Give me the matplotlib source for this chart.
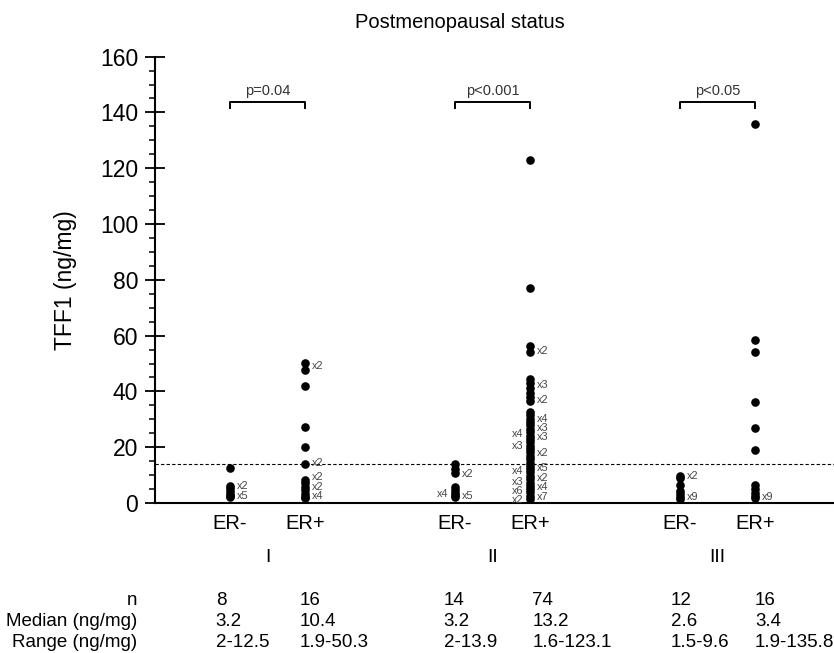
#!/usr/bin/env python
"""
TFF1 levels by ER status, postmenopausal patients (dot plot + summary table)
"""

import matplotlib as mpl
mpl.use('Agg')
import matplotlib.pyplot as plt
from matplotlib.ticker import MultipleLocator
from matplotlib.transforms import blended_transform_factory

plt.rcParams['font.family'] = ['Liberation Sans', 'DejaVu Sans']

"""----------------------------- data ---------------------------------"""

groups = ['I', 'II', 'III']
er_labels = ['ER-', 'ER+']
xpos = [0, 1, 3, 4, 6, 7]   # ER-/ER+ per group

# visible dots per column (ng/mg)
dots_I_neg = [12.5, 6.0, 5.2, 4.2, 3.3, 2.5, 2.0]
dots_I_pos = [50.3, 47.8, 41.8, 27.1, 20.0, 14.0, 8.2, 7.0, 5.8, 4.6, 3.4, 2.3, 1.9]
dots_II_neg = [13.9, 12.3, 10.8, 5.6, 4.6, 3.6, 2.7, 2.0]
dots_II_pos = [123.1, 77.0, 56.3, 54.3, 44.6, 43.0, 41.3, 39.6, 38.0, 36.4,
               32.5, 31.4, 30.1, 28.9, 27.8, 26.5, 25.4, 24.1, 23.0, 21.7,
               20.6, 19.3, 18.2, 16.9, 15.8, 14.5, 13.4, 12.1, 11.0, 9.7,
               8.6, 7.3, 6.2, 4.9, 3.8, 2.6, 1.6]
dots_III_neg = [9.6, 8.8, 6.3, 4.3, 3.1, 2.1, 1.5]
dots_III_pos = [135.8, 58.4, 54.0, 36.1, 26.8, 19.0, 6.3, 5.0, 3.6, 2.5, 1.9]
all_dots = [dots_I_neg, dots_I_pos, dots_II_neg, dots_II_pos, dots_III_neg, dots_III_pos]

# multiplicity labels: (column index, value, text, side)
mult = [(0, 6.0, 'x2', 'r'), (0, 2.6, 'x5', 'r'),
        (1, 49.2, 'x2', 'r'), (1, 14.2, 'x2', 'r'), (1, 9.2, 'x2', 'r'),
        (1, 5.8, 'x2', 'r'), (1, 2.4, 'x4', 'r'),
        (2, 10.4, 'x2', 'r'), (2, 2.5, 'x5', 'r'), (2, 3.2, 'x4', 'l'),
        (3, 54.6, 'x2', 'r'), (3, 42.3, 'x3', 'r'), (3, 37.0, 'x2', 'r'),
        (3, 30.0, 'x4', 'r'), (3, 26.8, 'x3', 'r'), (3, 23.5, 'x3', 'r'),
        (3, 18.0, 'x2', 'r'), (3, 12.4, 'x5', 'r'), (3, 9.1, 'x2', 'r'),
        (3, 5.8, 'x4', 'r'), (3, 2.3, 'x7', 'r'),
        (3, 24.6, 'x4', 'l'), (3, 20.3, 'x3', 'l'), (3, 11.6, 'x4', 'l'),
        (3, 7.6, 'x3', 'l'), (3, 4.3, 'x6', 'l'), (3, 1.0, 'x2', 'l'),
        (4, 9.6, 'x2', 'r'), (4, 2.3, 'x9', 'r'),
        (5, 2.3, 'x9', 'r')]

pvalues = ['p=0.04', 'p<0.001', 'p<0.05']
cutoff = 14.0

row_names = ['n', 'Median (ng/mg)', 'Range (ng/mg)']
n_vals = ['8', '16', '14', '74', '12', '16']
median_vals = ['3.2', '10.4', '3.2', '13.2', '2.6', '3.4']
range_vals = ['2-12.5', '1.9-50.3', '2-13.9', '1.6-123.1', '1.5-9.6', '1.9-135.8']

"""----------------------------- plot ---------------------------------"""

fig = plt.figure(figsize=(8.34, 6.53), dpi=100)
ax = fig.add_axes([0.1859, 0.2297, 0.8141, 0.6836])

for x, vals in zip(xpos, all_dots):
    ax.plot([x] * len(vals), vals, 'o', color='black', markersize=6.2,
            markeredgewidth=0, clip_on=False, zorder=3)

for ci, v, txt, side in mult:
    off = 5 if side == 'r' else -5
    ax.annotate(txt, xy=(xpos[ci], v), xytext=(off, 0), textcoords='offset points',
                ha='left' if side == 'r' else 'right', va='center',
                fontsize=7.8, color='#444444')

ax.axhline(cutoff, color='black', lw=0.8, ls=(0, (3, 2)), zorder=1)

# significance brackets
for g, p in enumerate(pvalues):
    x0, x1 = xpos[2 * g], xpos[2 * g + 1]
    ax.plot([x0, x0, x1, x1], [141.5, 143.6, 143.6, 141.5], color='black', lw=1.4)
    ax.text((x0 + x1) / 2., 147.6, p, ha='center', va='center', fontsize=10.5,
            color='#333333')

ax.set_xlim(-1.0, 8.053)
ax.set_ylim(0, 160)
ax.set_xticks([])
ax.set_yticks(range(0, 161, 20))
ax.yaxis.set_minor_locator(MultipleLocator(5))
ax.tick_params(axis='y', which='major', direction='inout', length=14, width=1.3,
               labelsize=16.5, pad=5)
ax.tick_params(axis='y', which='minor', direction='out', length=4, width=1.1)
for s in ['top', 'right']:
    ax.spines[s].set_visible(False)
ax.spines['left'].set_linewidth(1.5)
ax.spines['bottom'].set_linewidth(1.5)
ax.set_ylabel('TFF1 (ng/mg)', fontsize=16.5, labelpad=17)

# labels below the axis
trans = blended_transform_factory(ax.transData, fig.transFigure)
for i, x in enumerate(xpos):
    ax.text(x, 0.199, er_labels[i % 2], transform=trans, ha='center', va='center',
            fontsize=14.5)
for g, name in enumerate(groups):
    ax.text((xpos[2 * g] + xpos[2 * g + 1]) / 2., 0.1455, name, transform=trans,
            ha='center', va='center', fontsize=14)

row_y = [0.0800, 0.0475, 0.0155]
col_x = [-0.19, 0.93, 2.85, 4.03, 5.88, 7.0]
for name, yy in zip(row_names, row_y):
    fig.text(0.165, yy, name, ha='right', va='center', fontsize=13.5)
for vals, yy in zip([n_vals, median_vals, range_vals], row_y):
    for x, v in zip(col_x, vals):
        ax.text(x, yy, v, transform=trans, ha='left', va='center', fontsize=13.5)

fig.text(0.552, 0.966, 'Postmenopausal status', ha='center', va='center', fontsize=14.5)

plt.savefig('out.png', dpi=100)
plt.close()
